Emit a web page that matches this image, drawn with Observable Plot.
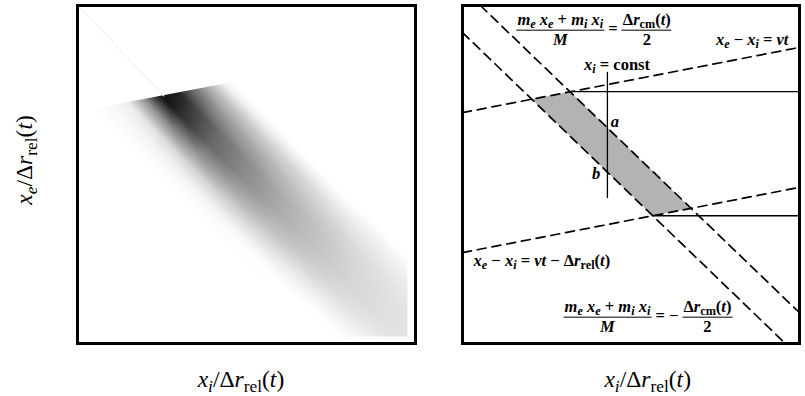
<!DOCTYPE html>
<html><head><meta charset="utf-8">
<script src="https://cdn.jsdelivr.net/npm/d3@7"></script>
<script src="https://cdn.jsdelivr.net/npm/@observablehq/plot@0.6"></script>
<style>
html,body{margin:0;padding:0;background:#fff;}
#chart{position:relative;width:805px;height:396px;overflow:hidden;font-family:"Liberation Serif","DejaVu Serif","Times New Roman",serif;color:#000;}
#chart svg{position:absolute;top:0;}
.lbl{position:absolute;transform:translate(-50%,-50%);white-space:nowrap;line-height:1;}
.ax{font-size:23.5px;}
.ann{font-size:16.5px;font-weight:bold;}
.frac{display:inline-flex;flex-direction:column;align-items:center;vertical-align:middle;line-height:1.02;}
.frac .num{border-bottom:1.5px solid #000;padding:0 1px 1px 1px;}
.frac .den{padding-top:1px;}
sub{font-size:74%;vertical-align:-0.25em;line-height:0;}
</style></head><body><div id="chart"></div>
<script>
// ---------- Left panel: density ----------
// sample grid in band coordinates: p = along the band (u - v), q = across the band (u + v)
const alongP  = [-0.70, -0.55, -0.45, -0.35, -0.20, 0.00, 0.20, 0.40, 0.60, 0.80, 1.00];
const acrossQ = [0.74, 0.78, 0.81, 0.86, 0.92, 0.98, 1.04, 1.10, 1.16, 1.20, 1.23, 1.28];
const density = [
  [0, 0.02, 0.03, 0.07, 0.40, 0.95, 0.92, 0.58, 0.28, 0.06, 0, 0],
  [0, 0.02, 0.03, 0.07, 0.40, 0.95, 0.92, 0.58, 0.28, 0.06, 0, 0],
  [0, 0.02, 0.04, 0.10, 0.45, 0.92, 0.88, 0.58, 0.28, 0.06, 0, 0],
  [0, 0.02, 0.04, 0.14, 0.48, 0.80, 0.75, 0.50, 0.25, 0.06, 0, 0],
  [0, 0.02, 0.05, 0.17, 0.43, 0.60, 0.57, 0.40, 0.22, 0.06, 0, 0],
  [0, 0.02, 0.05, 0.17, 0.35, 0.45, 0.43, 0.32, 0.18, 0.06, 0, 0],
  [0, 0.01, 0.04, 0.14, 0.27, 0.33, 0.31, 0.24, 0.14, 0.05, 0, 0],
  [0, 0.00, 0.03, 0.10, 0.20, 0.24, 0.23, 0.18, 0.10, 0.04, 0, 0],
  [0, 0.00, 0.01, 0.07, 0.14, 0.17, 0.16, 0.13, 0.08, 0.04, 0, 0],
  [0, 0.00, 0.00, 0.05, 0.10, 0.13, 0.12, 0.10, 0.06, 0.03, 0, 0],
  [0, 0.00, 0.00, 0.04, 0.08, 0.10, 0.10, 0.08, 0.05, 0.03, 0, 0]
];
const imageExtent = {u1: 0, u2: 0.976, v1: 0.021, v2: 1};
const bandTopEdge = [{u: 0, v: 0.684}, {u: 1, v: 0.876}];
const faintRidge  = [{u: 0.012, v: 0.99}, {u: 0.255, v: 0.733}];

// ---------- Right panel: schematic ----------
const cmUpper  = [{u: 0.053, v: 1.0}, {u: 1.0, v: 0.091}];
const cmLower  = [{u: 0.0, v: 0.920}, {u: 0.958, v: 0.0}];
const vtUpper  = [{u: 0.0, v: 0.683}, {u: 1.0, v: 0.876}];
const vtLower  = [{u: 0.0, v: 0.269}, {u: 1.0, v: 0.462}];
const region   = [{u: 0.2056, v: 0.7227}, {u: 0.319, v: 0.745}, {u: 0.678, v: 0.400}, {u: 0.5646, v: 0.378}, {u: 0.2056, v: 0.7227}];
const hUpper   = [{u: 0.319, v: 0.745}, {u: 1.0, v: 0.745}];
const hLower   = [{u: 0.5646, v: 0.378}, {u: 1.0, v: 0.378}];
const xiConst  = [{u: 0.430, v: 0.802}, {u: 0.430, v: 0.432}];

const samples = [];
alongP.forEach((p, i) => acrossQ.forEach((q, j) =>
  samples.push({u: (p + q) / 2, v: (q - p) / 2, d: density[i][j]})));

const unit = {domain: [0, 1], axis: null};
const left = Plot.plot({
  width: 440, height: 350,
  marginLeft: 77, marginRight: 25, marginTop: 5, marginBottom: 7,
  x: unit, y: unit,
  color: {type: "linear", domain: [0, 1], range: ["#ffffff", "#000000"]},
  marks: [
    Plot.raster(samples, {x: "u", y: "v", fill: "d", interpolate: "barycentric",
      x1: imageExtent.u1, x2: imageExtent.u2, y1: imageExtent.v1, y2: imageExtent.v2}),
    Plot.areaY(bandTopEdge, {x: "u", y1: "v", y2: 1, fill: "white"}),
    Plot.line(faintRidge, {x: "u", y: "v", stroke: "#f4f4f4", strokeWidth: 1.2}),
    Plot.frame({stroke: "black", strokeWidth: 3})
  ]
});
left.style.left = "0px";

const dash = {x: "u", y: "v", stroke: "black", strokeWidth: 1.7, strokeDasharray: "9,6"};
const solid = {x: "u", y: "v", stroke: "black", strokeWidth: 1.3};
const right = Plot.plot({
  width: 365, height: 350,
  marginLeft: 22, marginRight: 6, marginTop: 5, marginBottom: 7,
  x: unit, y: unit,
  marks: [
    Plot.line(region, {x: "u", y: "v", fill: "#b3b3b3", stroke: "none"}),
    Plot.line(hUpper, solid),
    Plot.line(hLower, solid),
    Plot.line(xiConst, solid),
    Plot.line(cmUpper, dash),
    Plot.line(cmLower, dash),
    Plot.line(vtUpper, dash),
    Plot.line(vtLower, dash),
    Plot.frame({stroke: "black", strokeWidth: 3})
  ]
});
right.style.left = "440px";

const chart = document.getElementById("chart");
chart.append(left, right);

function label(html, x, y, cls, rotate) {
  const d = document.createElement("div");
  d.className = "lbl " + cls;
  d.innerHTML = html;
  d.style.left = x + "px";
  d.style.top = y + "px";
  if (rotate) d.style.transform = "translate(-50%,-50%) rotate(-90deg)";
  chart.append(d);
}
const axisX = '<i>x</i><sub><i>i</i></sub>/Δ<i>r</i><sub>rel</sub>(<i>t</i>)';
const axisY = '<i>x</i><sub><i>e</i></sub>/Δ<i>r</i><sub>rel</sub>(<i>t</i>)';
const lx = left.scale("x"), ly = left.scale("y");
const rx = (u) => 440 + right.scale("x").apply(u), ry = (v) => right.scale("y").apply(v);
label(axisX, lx.apply(0.485), 380, "ax");
label(axisY, 25, ly.apply(0.54), "ax", true);
label(axisX, rx(0.551), 380, "ax");

const mix = '<i>m</i><sub><i>e</i></sub> <i>x</i><sub><i>e</i></sub> + <i>m</i><sub><i>i</i></sub> <i>x</i><sub><i>i</i></sub>';
const cm = 'Δ<i>r</i><sub>cm</sub>(<i>t</i>)';
const frac = (n, d) => `<span class="frac"><span class="num">${n}</span><span class="den">${d}</span></span>`;
label(`${frac(mix, '<i>M</i>')} = ${frac(cm, '2')}`, rx(0.392), ry(0.925), "ann");
label(`${frac(mix, '<i>M</i>')} = − ${frac(cm, '2')}`, rx(0.552), ry(0.076), "ann");
label('<i>x</i><sub><i>e</i></sub> − <i>x</i><sub><i>i</i></sub> = <i>vt</i>', rx(0.861), ry(0.896), "ann");
label('<i>x</i><sub><i>i</i></sub> = const', rx(0.460), ry(0.822), "ann");
label('<i>a</i>', rx(0.454), ry(0.654), "ann");
label('<i>b</i>', rx(0.398), ry(0.500), "ann");
label('<i>x</i><sub><i>e</i></sub> − <i>x</i><sub><i>i</i></sub> = <i>vt</i> − Δ<i>r</i><sub>rel</sub>(<i>t</i>)', rx(0.237), ry(0.243), "ann");
</script></body></html>
